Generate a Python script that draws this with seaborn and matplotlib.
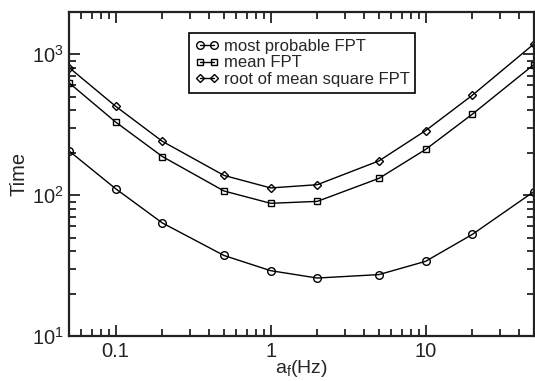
import numpy as np
import pandas as pd
import matplotlib
matplotlib.use("Agg")
import matplotlib.pyplot as plt
import seaborn as sns
from matplotlib.ticker import LogLocator, NullFormatter, FixedLocator, FixedFormatter

freq = [0.05, 0.1, 0.2, 0.5, 1, 2, 5, 10, 20, 50]
most_probable = [206, 111, 63.5, 37.3, 29.1, 25.8, 27.3, 33.9, 52.6, 106]
mean_fpt = [627, 330, 188, 107, 87.5, 90.3, 131.5, 211, 375, 845]
rms_fpt = [805, 427, 241, 138, 112.5, 118.6, 175, 287, 511, 1183]

names = ["most probable FPT", "mean FPT", "root of mean square FPT"]
markers = ["o", "s", "D"]
msizes = [5.5, 5, 4.5]

sns.set_style("ticks")
plt.rcParams["font.family"] = ["Liberation Sans", "DejaVu Sans"]
plt.rcParams["mathtext.fontset"] = "custom"
plt.rcParams["mathtext.rm"] = "Liberation Sans"
plt.rcParams["mathtext.it"] = "Liberation Sans"

fig = plt.figure(figsize=(5.35, 3.81), dpi=100)
ax = fig.add_axes([0.129, 0.118, 0.869, 0.851])

for name, vals, m, ms in zip(names, [most_probable, mean_fpt, rms_fpt], markers, msizes):
    df = pd.DataFrame({"freq": freq, "time": vals})
    sns.lineplot(data=df, x="freq", y="time", ax=ax, color="black", lw=1,
                 marker=m, markersize=ms, markerfacecolor="none",
                 markeredgecolor="black", markeredgewidth=1, label=name)

ax.set_xscale("log")
ax.set_yscale("log")
ax.set_xlim(0.05, 50)
ax.set_ylim(10, 2000)

ax.xaxis.set_major_locator(FixedLocator([0.1, 1, 10]))
ax.xaxis.set_major_formatter(FixedFormatter(["0.1", "1", "10"]))
ax.xaxis.set_minor_locator(LogLocator(base=10, subs=np.arange(2, 10), numticks=20))
ax.xaxis.set_minor_formatter(NullFormatter())
ax.yaxis.set_major_locator(LogLocator(base=10, numticks=10))
ax.yaxis.set_minor_locator(LogLocator(base=10, subs=np.arange(2, 10), numticks=20))
ax.yaxis.set_minor_formatter(NullFormatter())

ax.tick_params(which="both", direction="in", top=True, right=True, labelsize=14.5,
               width=1.3, colors="#222222")
ax.tick_params(which="major", length=8, pad=4)
ax.tick_params(which="minor", length=5)
for s in ax.spines.values():
    s.set_linewidth(1.6)
    s.set_color("#222222")

ax.set_xlabel(r"a$_\mathregular{f}$(Hz)", fontsize=14, labelpad=-2)
ax.set_ylabel("Time", fontsize=14.5, labelpad=2)

leg = ax.legend(loc="upper left", bbox_to_anchor=(0.259, 0.935), numpoints=2,
                handlelength=1.4, handletextpad=0.3, fontsize=12, frameon=True,
                fancybox=False, edgecolor="black", framealpha=1,
                borderpad=0.35, labelspacing=0.1, borderaxespad=0)
leg.get_frame().set_linewidth(1.2)

fig.savefig("out.png", dpi=100)
